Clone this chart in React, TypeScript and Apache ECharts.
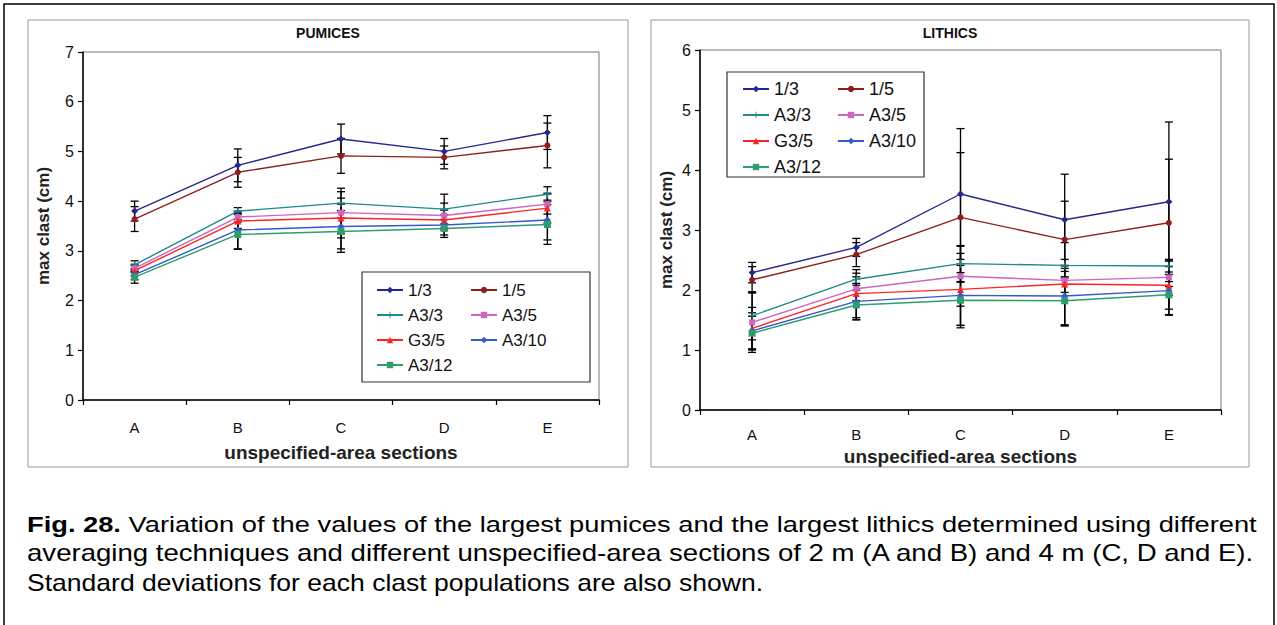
import React, { useEffect, useRef } from "react";
import * as echarts from "echarts";

// ---------- DATA ----------
const categories = ["A", "B", "C", "D", "E"];
const seriesNames = ["1/3", "1/5", "A3/3", "A3/5", "G3/5", "A3/10", "A3/12"];
const yTicksPumices = [0, 1, 2, 3, 4, 5, 6, 7];
const yTicksLithics = [0, 1, 2, 3, 4, 5, 6];

// PUMICES means (cm)
const pum_1_3 = [3.8, 4.72, 5.25, 5.0, 5.38];
const pum_1_5 = [3.64, 4.58, 4.91, 4.88, 5.12];
const pum_A3_3 = [2.72, 3.8, 3.96, 3.84, 4.14];
const pum_A3_5 = [2.65, 3.68, 3.77, 3.71, 3.94];
const pum_G3_5 = [2.6, 3.6, 3.66, 3.62, 3.86];
const pum_A3_10 = [2.52, 3.42, 3.49, 3.52, 3.62];
const pum_A3_12 = [2.47, 3.33, 3.39, 3.45, 3.53];
// PUMICES standard deviations
const pumSd_1_3 = [0.2, 0.33, 0.3, 0.26, 0.34];
const pumSd_1_5 = [0.25, 0.3, 0.35, 0.23, 0.45];
const pumSd_A3_3 = [0.08, 0.07, 0.3, 0.3, 0.15];
const pumSd_A3_5 = [0.08, 0.1, 0.42, 0.25, 0.2];
const pumSd_G3_5 = [0.1, 0.15, 0.4, 0.2, 0.3];
const pumSd_A3_10 = [0.1, 0.38, 0.45, 0.2, 0.4];
const pumSd_A3_12 = [0.12, 0.3, 0.42, 0.18, 0.4];

// LITHICS means (cm)
const lit_1_3 = [2.29, 2.71, 3.6, 3.17, 3.47];
const lit_1_5 = [2.17, 2.59, 3.21, 2.84, 3.12];
const lit_A3_3 = [1.57, 2.18, 2.44, 2.41, 2.4];
const lit_A3_5 = [1.46, 2.02, 2.23, 2.16, 2.21];
const lit_G3_5 = [1.36, 1.94, 2.01, 2.1, 2.08];
const lit_A3_10 = [1.32, 1.81, 1.91, 1.9, 1.99];
const lit_A3_12 = [1.28, 1.75, 1.83, 1.82, 1.92];
// LITHICS standard deviations
const litSd_1_3 = [0.17, 0.15, 1.09, 0.76, 1.33];
const litSd_1_5 = [0.22, 0.2, 1.08, 0.64, 1.06];
const litSd_A3_3 = [0.4, 0.1, 0.3, 0.1, 0.1];
const litSd_A3_5 = [0.5, 0.2, 0.5, 0.2, 0.3];
const litSd_G3_5 = [0.35, 0.4, 0.6, 0.69, 0.4];
const litSd_A3_10 = [0.3, 0.3, 0.5, 0.5, 0.4];
const litSd_A3_12 = [0.28, 0.25, 0.46, 0.4, 0.34];

const pumMeans = [pum_1_3, pum_1_5, pum_A3_3, pum_A3_5, pum_G3_5, pum_A3_10, pum_A3_12];
const pumSds = [pumSd_1_3, pumSd_1_5, pumSd_A3_3, pumSd_A3_5, pumSd_G3_5, pumSd_A3_10, pumSd_A3_12];
const litMeans = [lit_1_3, lit_1_5, lit_A3_3, lit_A3_5, lit_G3_5, lit_A3_10, lit_A3_12];
const litSds = [litSd_1_3, litSd_1_5, litSd_A3_3, litSd_A3_5, litSd_G3_5, litSd_A3_10, litSd_A3_12];

const captionLines = [
  "Variation of the values of the largest pumices and the largest lithics determined using different",
  "averaging techniques and different unspecified-area sections of 2 m (A and B) and 4 m (C, D and E).",
  "Standard deviations for each clast populations are also shown.",
];

// ---------- STYLES ----------
const FONT = "'Liberation Sans', Arial, sans-serif";
const plusPath = "path://M4.3,0H5.7V4.3H10V5.7H5.7V10H4.3V5.7H0V4.3H4.3Z";
const styles = [
  { color: "#26268C", symbol: "diamond", size: 7 },
  { color: "#8E1E1E", symbol: "circle", size: 6 },
  { color: "#1E8A8A", symbol: plusPath, size: 8 },
  { color: "#CC66C2", symbol: "rect", size: 6 },
  { color: "#FF2424", symbol: "triangle", size: 7 },
  { color: "#3A58C8", symbol: "diamond", size: 7 },
  { color: "#2E9E6E", symbol: "rect", size: 7 },
];

const errRender = (params: any, api: any) => {
  const i = api.value(0);
  const lo = api.value(1);
  const hi = api.value(2);
  const top = api.coord([i, hi]);
  const bot = api.coord([i, lo]);
  const w = 4;
  const st = { stroke: "#000", lineWidth: 1.3 };
  return {
    type: "group",
    children: [
      { type: "line", shape: { x1: top[0], y1: top[1], x2: bot[0], y2: bot[1] }, style: st },
      { type: "line", shape: { x1: top[0] - w, y1: top[1], x2: top[0] + w, y2: top[1] }, style: st },
      { type: "line", shape: { x1: bot[0] - w, y1: bot[1], x2: bot[0] + w, y2: bot[1] }, style: st },
    ],
  };
};

function buildSeries(means: number[][], sds: number[][], gi: number) {
  const out: any[] = [];
  means.forEach((m, k) => {
    out.push({
      type: "custom",
      name: "err" + gi + "-" + seriesNames[k],
      xAxisIndex: gi,
      yAxisIndex: gi,
      renderItem: errRender,
      encode: { x: 0, y: [1, 2] },
      data: m.map((v, i) => [i, v - sds[k][i], v + sds[k][i]]),
      z: 1,
      silent: true,
    });
  });
  means.forEach((m, k) => {
    const s = styles[k];
    out.push({
      type: "line",
      name: seriesNames[k],
      xAxisIndex: gi,
      yAxisIndex: gi,
      data: m,
      symbol: s.symbol,
      symbolSize: s.size,
      showAllSymbol: true,
      lineStyle: { color: s.color, width: 1.4 },
      itemStyle: { color: s.color },
      z: 3,
      silent: true,
    });
  });
  return out;
}

function xAxis(gi: number, gap: number, margin: number) {
  return {
    type: "category",
    gridIndex: gi,
    data: categories,
    boundaryGap: true,
    axisLine: { lineStyle: { color: "#000", width: 1.5 } },
    axisTick: { show: true, length: 5, lineStyle: { color: "#000", width: 1.2 } },
    axisLabel: { margin, fontSize: 15, color: "#111", fontFamily: FONT },
    name: "unspecified-area sections",
    nameLocation: "middle",
    nameGap: gap,
    nameTextStyle: { fontWeight: "bold", fontSize: 19, color: "#222", fontFamily: FONT },
  };
}

function yAxis(gi: number, max: number, ticks: number[], gap: number) {
  return {
    type: "value",
    gridIndex: gi,
    min: ticks[0],
    max,
    interval: 1,
    splitLine: { show: false },
    axisLine: { show: true, lineStyle: { color: "#000", width: 1.5 } },
    axisTick: { show: true, length: 5, lineStyle: { color: "#000", width: 1.2 } },
    axisLabel: { margin: 9, fontSize: 16, color: "#111", fontFamily: FONT },
    name: "max clast (cm)",
    nameLocation: "middle",
    nameGap: gap,
    nameTextStyle: { fontWeight: "bold", fontSize: 17, color: "#222", fontFamily: FONT },
  };
}

function legend(left: number, top: number, names: string[], fs: number, gap: number) {
  return {
    orient: "vertical",
    left,
    top,
    padding: 0,
    data: names,
    itemWidth: 26,
    itemHeight: 8,
    itemGap: gap,
    selectedMode: false,
    textStyle: { fontSize: fs, color: "#111", fontFamily: FONT, lineHeight: 20 },
  };
}

function captionText(y: number, text: string, sx: number, rich: boolean) {
  return {
    type: "text",
    silent: true,
    x: 27,
    y,
    scaleX: sx,
    style: {
      text,
      rich: rich ? { b: { fontWeight: "bold", fontSize: 23, fontFamily: FONT, fill: "#000" } } : undefined,
      fontSize: 23,
      fontFamily: FONT,
      fill: "#000",
      verticalAlign: "middle",
    },
  };
}

export default function App() {
  const ref = useRef<HTMLDivElement>(null);
  useEffect(() => {
    document.body.style.margin = "0";
    document.body.style.overflow = "hidden";
    if (!ref.current) return;
    const chart = echarts.init(ref.current, undefined, { renderer: "svg" });
    const col1 = ["1/3", "A3/3", "G3/5", "A3/12"];
    const col2 = ["1/5", "A3/5", "A3/10"];
    chart.setOption({
      animation: false,
      backgroundColor: "#fff",
      grid: [
        { left: 83, top: 52, width: 516, height: 348, show: true, borderColor: "#777", borderWidth: 1 },
        { left: 700, top: 50, width: 521, height: 360, show: true, borderColor: "#777", borderWidth: 1 },
      ],
      xAxis: [xAxis(0, 43, 20), xAxis(1, 35, 17)],
      yAxis: [yAxis(0, 7, yTicksPumices, 31), yAxis(1, 6, yTicksLithics, 25)],
      legend: [
        legend(376, 280, col1, 17, 5),
        legend(470, 280, col2, 17, 5),
        legend(742, 79, col1, 18, 6),
        legend(837, 79, col2, 18, 6),
      ],
      series: [...buildSeries(pumMeans, pumSds, 0), ...buildSeries(litMeans, litSds, 1)],
      graphic: [
        { type: "rect", silent: true, shape: { x: 4, y: 4, width: 1270, height: 640 }, style: { fill: "none", stroke: "#000", lineWidth: 1.5 } },
        { type: "rect", silent: true, shape: { x: 28, y: 20, width: 600, height: 447 }, style: { fill: "none", stroke: "#999", lineWidth: 1 } },
        { type: "rect", silent: true, shape: { x: 651, y: 20, width: 598, height: 447 }, style: { fill: "none", stroke: "#999", lineWidth: 1 } },
        { type: "rect", silent: true, shape: { x: 362, y: 272, width: 228, height: 110 }, style: { fill: "none", stroke: "#333", lineWidth: 1.2 } },
        { type: "rect", silent: true, shape: { x: 727, y: 72, width: 197, height: 105 }, style: { fill: "none", stroke: "#333", lineWidth: 1.2 } },
        { type: "text", silent: true, x: 328, y: 33, style: { text: "PUMICES", fontSize: 14, fontWeight: "bold", fontFamily: FONT, fill: "#111", align: "center", verticalAlign: "middle" } },
        { type: "text", silent: true, x: 950, y: 33, style: { text: "LITHICS", fontSize: 14, fontWeight: "bold", fontFamily: FONT, fill: "#111", align: "center", verticalAlign: "middle" } },
        captionText(524, "{b|Fig. 28.} " + captionLines[0], 1.186, true),
        captionText(553, captionLines[1], 1.2, false),
        captionText(583, captionLines[2], 1.154, false),
      ],
    });
    return () => chart.dispose();
  }, []);
  return <div ref={ref} style={{ width: 1277, height: 625 }} />;
}
